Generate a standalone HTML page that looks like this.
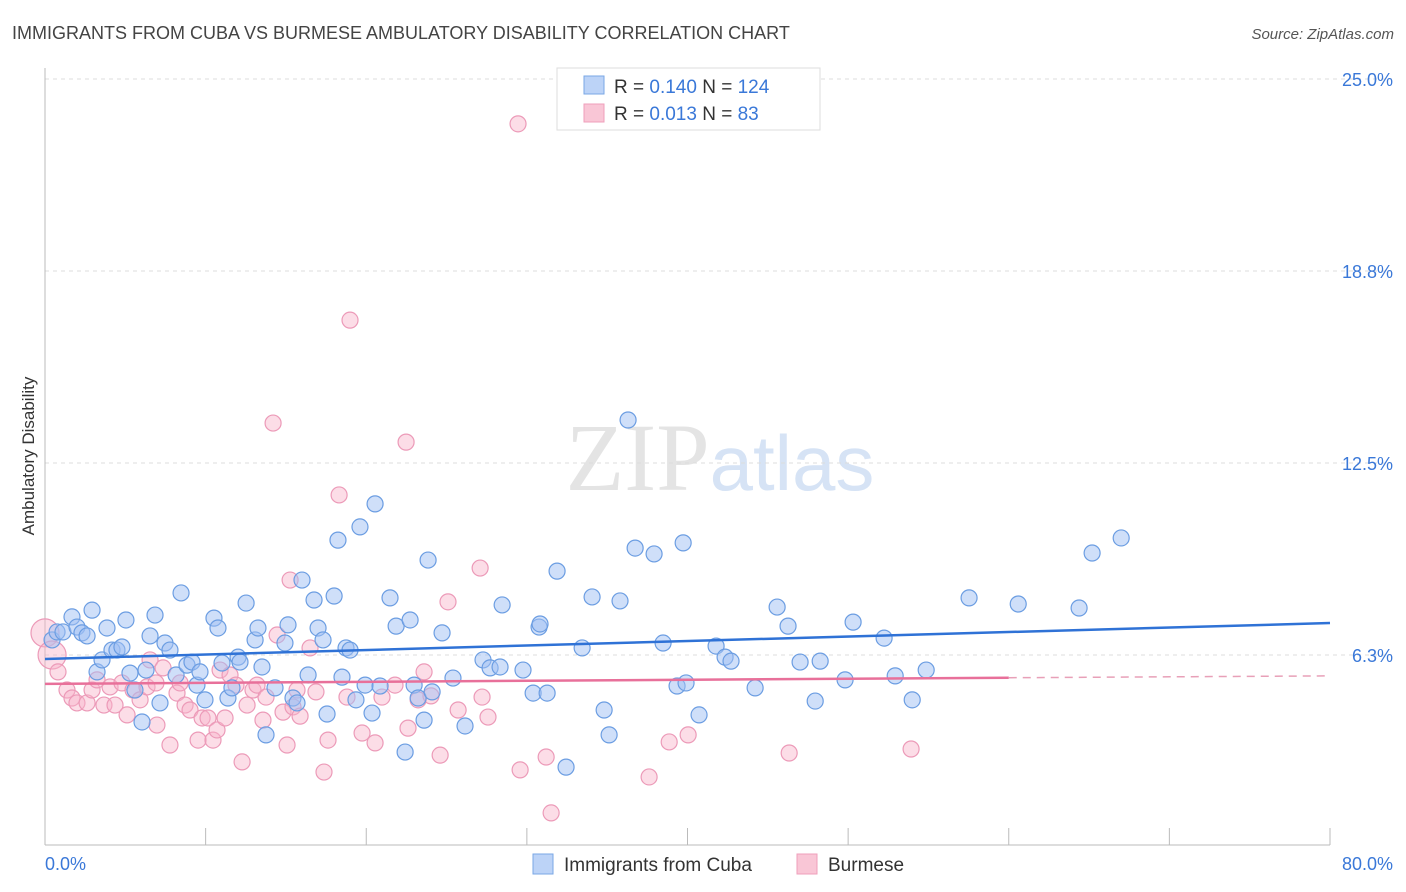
<!DOCTYPE html>
<html><head><meta charset="utf-8"><style>
body{margin:0;background:#fff;font-family:"Liberation Sans",sans-serif;}
svg{display:block}
</style></head><body>
<svg id="chart" width="1406" height="892" viewBox="0 0 1406 892">
<text x="12" y="39" font-size="18" fill="#444">IMMIGRANTS FROM CUBA VS BURMESE AMBULATORY DISABILITY CORRELATION CHART</text>
<text x="1394" y="39" font-size="15" fill="#555" text-anchor="end" font-style="italic">Source: ZipAtlas.com</text>
<text x="720" y="490" font-size="96" text-anchor="middle" fill="#e4e4e4" font-family="Liberation Serif">ZIP<tspan fill="#d6e3f5" font-family="Liberation Sans" font-size="78">atlas</tspan></text>
<g id="grid"></g><g id="axes"></g>
<g id="pink"></g><g id="blue"></g><g id="trends"></g>
<text transform="translate(34,456) rotate(-90)" font-size="17" fill="#333" text-anchor="middle">Ambulatory Disability</text>
<g>
<rect x="557" y="68" width="263" height="62" fill="#fff" stroke="#ddd"/>
<rect x="584" y="76" width="20" height="18" fill="#bcd3f7" stroke="#7aa7e6"/>
<rect x="584" y="104" width="20" height="18" fill="#f9c6d6" stroke="#ef9fbb"/>
<text x="614" y="93" font-size="19" fill="#333">R = <tspan fill="#3a78d8">0.140</tspan>   N = <tspan fill="#3a78d8">124</tspan></text>
<text x="614" y="120" font-size="19" fill="#333">R = <tspan fill="#3a78d8">0.013</tspan>   N = <tspan fill="#3a78d8">  83</tspan></text>
</g>
<g>
<rect x="533" y="854" width="20" height="20" fill="#bcd3f7" stroke="#7aa7e6"/>
<text x="564" y="871" font-size="19" fill="#333">Immigrants from Cuba</text>
<rect x="797" y="854" width="20" height="20" fill="#f9c6d6" stroke="#ef9fbb"/>
<text x="828" y="871" font-size="19" fill="#333">Burmese</text>
</g>
</svg>
<script>
const yTicks=[25,18.75,12.5,6.25];
const yTickLabels=["25.0%","18.8%","12.5%","6.3%"];
const xTickLabels=["0.0%","80.0%"];
const blueX=[.44,.75,1.12,1.68,1.99,2.30,2.93,2.62,3.24,3.55,3.86,4.17,4.48,4.79,5.04,5.29,5.60,6.04,6.29,6.54,6.85,7.16,7.47,7.78,8.16,8.47,8.84,9.15,9.46,9.65,9.96,10.52,10.77,11.02,11.39,11.64,12.02,12.14,12.52,13.08,13.26,13.51,13.76,14.32,14.94,15.13,15.44,15.69,16.00,16.38,16.75,17.00,17.31,17.56,18.00,18.24,18.49,18.74,18.99,19.36,19.61,19.93,20.36,20.55,20.86,21.48,21.86,22.42,22.73,22.98,23.23,23.60,23.85,24.10,24.72,25.40,26.15,27.27,27.71,28.33,28.46,29.76,30.39,30.76,30.82,31.26,31.88,32.44,33.44,34.06,34.81,35.12,35.80,36.30,36.74,37.92,38.48,39.73,39.35,39.91,40.72,41.78,42.34,42.71,44.21,45.58,46.26,47.01,47.95,48.26,49.81,50.31,52.24,52.93,53.99,54.86,57.53,60.59,64.38,65.19,67.00];
const blueY=[6.74,7.0,7.0,7.49,7.16,6.97,7.71,6.87,5.70,6.09,7.13,6.41,6.41,6.51,7.39,5.66,5.11,4.07,5.76,6.87,7.55,4.69,6.64,6.41,5.60,8.27,5.92,6.02,5.27,5.70,4.79,7.45,7.13,5.99,4.85,5.18,6.18,6.02,7.94,6.74,7.13,5.86,3.65,5.18,6.64,7.23,4.85,4.69,8.69,5.60,8.04,7.13,6.74,4.33,8.17,9.99,5.53,6.48,6.41,4.79,10.42,5.27,4.36,11.17,5.24,8.11,7.19,3.09,7.39,5.27,4.85,4.13,9.34,5.05,6.97,5.50,3.94,6.09,5.83,5.86,7.88,5.76,5.01,7.16,7.26,5.01,8.98,2.60,6.48,8.14,4.46,3.65,8.01,13.90,9.73,9.54,6.64,9.90,5.24,5.34,4.30,6.54,6.18,6.05,5.18,7.81,7.19,6.02,4.75,6.05,5.44,7.32,6.80,5.57,4.79,5.76,8.11,7.91,7.78,9.57,10.06];
const pinkX=[0,.44,.81,1.37,1.68,1.99,2.62,2.93,3.24,3.67,4.05,4.36,4.79,5.11,5.48,5.92,6.35,6.54,6.91,6.97,7.35,7.78,8.22,8.41,8.72,9.03,9.53,9.78,10.15,10.46,10.71,10.90,11.21,11.52,11.89,12.27,12.58,12.95,13.20,13.57,13.76,14.20,14.45,14.82,15.07,15.26,15.44,15.69,15.88,16.50,16.87,17.37,17.62,18.31,18.80,18.99,19.74,20.55,20.98,21.79,22.48,22.60,23.23,23.60,24.03,24.60,25.09,25.72,27.09,27.21,27.58,29.45,29.58,31.20,31.51,37.61,38.86,40.04,46.33,53.92];
const pinkY=[6.97,6.25,5.70,5.11,4.85,4.69,4.69,5.11,5.44,4.62,5.21,4.62,5.34,4.30,5.11,4.79,5.21,6.09,5.34,3.97,5.83,3.32,5.01,5.34,4.62,4.46,3.48,4.20,4.20,3.48,3.81,5.76,4.20,5.60,5.27,2.77,4.62,5.11,5.27,4.13,4.88,13.80,6.90,4.39,3.32,8.69,4.56,5.11,4.26,6.48,5.05,2.44,3.48,11.46,4.88,17.15,3.71,3.39,4.88,5.27,13.18,3.87,4.79,5.70,4.92,2.99,7.98,4.46,9.08,4.88,4.23,23.54,2.51,2.93,1.11,2.28,3.42,3.65,3.06,3.19];
const blueTrendX=[0,80], blueTrendY=[6.12,7.29];
const pinkTrendX=[0,60,80], pinkTrendY=[5.31,5.51,5.57];

const NS="http://www.w3.org/2000/svg";
const X0=45,X1=1330,YB=847,PX_PER=30.72;
const sx=v=>X0+(X1-X0)*v/80;
const sy=v=>YB-v*PX_PER;
function mk(tag,attrs,parent){const e=document.createElementNS(NS,tag);for(const k in attrs)e.setAttribute(k,attrs[k]);parent.appendChild(e);return e;}
const grid=document.getElementById('grid'),axes=document.getElementById('axes');
yTicks.forEach((t,i)=>{
  const l=mk('line',{x1:X0,x2:1392,y1:sy(t),y2:sy(t),stroke:'#dcdcdc','stroke-dasharray':'4,4'},grid);
  
  
  const tx=mk('text',{x:1393,y:sy(t)+7,'font-size':18,fill:'#3a78d8','text-anchor':'end'},grid);
  tx.textContent=yTickLabels[i];
  
  
});
const ya=mk('line',{x1:X0,x2:X0,y1:68,y2:845,stroke:'#bbb'},axes);


const xa=mk('line',{x1:X0,x2:X1,y1:845,y2:845,stroke:'#bbb'},axes);


for(let v=0;v<=80;v+=10){
  const t=mk('line',{x1:sx(v),x2:sx(v),y1:828,y2:845,stroke:'#bbb'},axes);
  
  
}
[[0,'start'],[80,'end']].forEach((p,i)=>{
  const t=mk('text',{x:i?1393:45,y:870,'font-size':18,fill:'#3a78d8','text-anchor':p[1]},axes);
  t.textContent=xTickLabels[i];
  
  
});
function dots(xs,ys,g,fill,stroke,name){
  xs.forEach((x,i)=>{
    const r=(i<2&&name==='burmese-point')?14:(i===0&&name==='cuba-point')?8:8;
    const c=mk('circle',{cx:sx(x),cy:sy(ys[i]),r:r,fill:fill,stroke:stroke,'stroke-width':1.2},g);
    
    
  });
}
dots(pinkX,pinkY,document.getElementById('pink'),'rgba(248,180,202,0.45)','#ec9ab8','burmese-point');
dots(blueX,blueY,document.getElementById('blue'),'rgba(160,192,244,0.5)','#6b9de2','cuba-point');
const tr=document.getElementById('trends');
const bl=mk('line',{x1:sx(blueTrendX[0]),y1:sy(blueTrendY[0]),x2:sx(blueTrendX[1]),y2:sy(blueTrendY[1]),stroke:'#2f72d6','stroke-width':2.5},tr);


const pl=mk('line',{x1:sx(pinkTrendX[0]),y1:sy(pinkTrendY[0]),x2:sx(pinkTrendX[1]),y2:sy(pinkTrendY[1]),stroke:'#e8709a','stroke-width':2.5},tr);


const pd=mk('line',{x1:sx(pinkTrendX[1]),y1:sy(pinkTrendY[1]),x2:sx(pinkTrendX[2]),y2:sy(pinkTrendY[2]),stroke:'#e8a0b8','stroke-width':1.5,'stroke-dasharray':'8,6'},tr);


</script>
</body></html>
